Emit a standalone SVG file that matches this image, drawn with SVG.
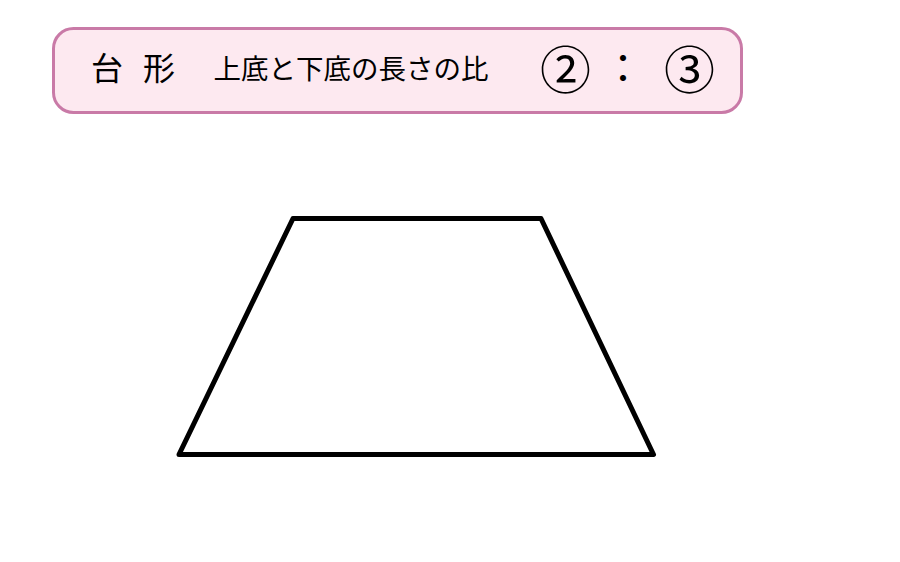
<svg xmlns="http://www.w3.org/2000/svg" width="900" height="562" viewBox="0 0 900 562">
<style>
.t{font-family:"Noto Sans CJK JP","Noto Sans CJK SC",sans-serif;fill:#000}
</style>
<rect width="900" height="562" fill="#ffffff"/>
<g id="title">
<rect x="53.5" y="28.5" width="688" height="84" rx="20" ry="20" fill="#fde9f0" stroke="#c97aa7" stroke-width="3"/>
<text class="t" x="91" y="80" font-size="32">台</text>
<text class="t" x="143" y="80" font-size="32">形</text>
<text class="t" x="213.5" y="79" font-size="27.5">上底と下底の長さの比</text>
<text class="t" x="565.5" y="88.5" font-size="51" text-anchor="middle">②</text>
<text class="t" x="623" y="83" font-size="40" text-anchor="middle">：</text>
<text class="t" x="689.5" y="88.5" font-size="51" text-anchor="middle">③</text>
</g>
<g id="trapezoid">
<polygon points="293,218.5 541,218.5 653.5,454.5 179,454.5" fill="none" stroke="#000" stroke-width="5" stroke-linejoin="round"/>
</g>
</svg>
